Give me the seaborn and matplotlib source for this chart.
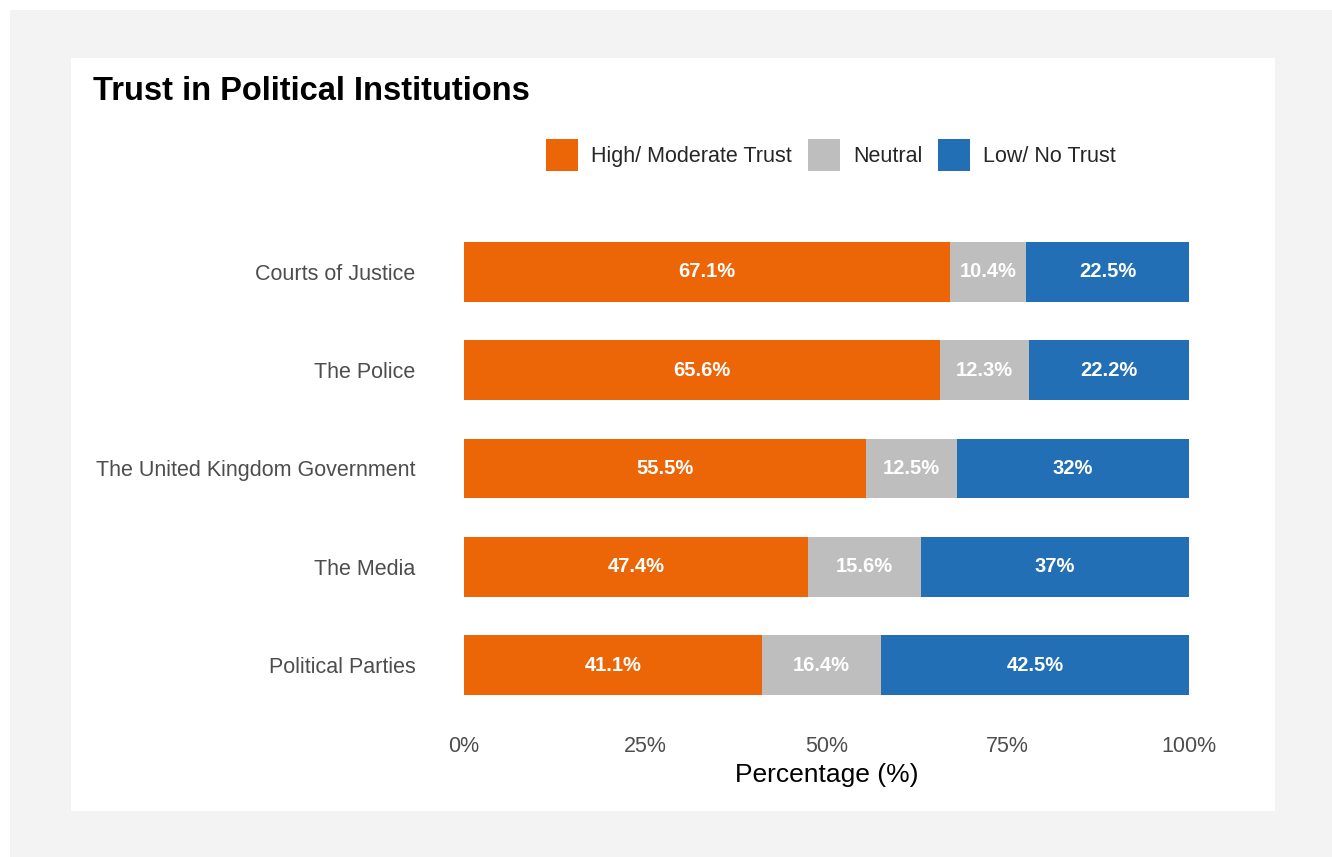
import matplotlib
matplotlib.use("Agg")
import matplotlib.pyplot as plt
from matplotlib.patches import Rectangle, Patch
import seaborn as sns
import pandas as pd
import numpy as np

institutions = ["Courts of Justice", "The Police", "The United Kingdom Government",
                "The Media", "Political Parties"]
high_trust = [67.1, 65.6, 55.5, 47.4, 41.1]
neutral = [10.4, 12.3, 12.5, 15.6, 16.4]
low_trust = [22.5, 22.2, 32.0, 37.0, 42.5]
series_names = ["High/ Moderate Trust", "Neutral", "Low/ No Trust"]
colors = ["#EC6608", "#BEBEBE", "#226FB5"]
x_ticks = [0, 25, 50, 75, 100]
x_tick_labels = ["0%", "25%", "50%", "75%", "100%"]

sns.set_theme(style="white")
plt.rcParams["font.family"] = ["Liberation Sans", "DejaVu Sans"]

W, H = 1332, 857
fig = plt.figure(figsize=(W / 100, H / 100), dpi=100, facecolor="white")

# framed backdrop: grey card with a white panel on top
fig.patches.append(Rectangle((10 / W, 0), 1 - 10 / W, 1 - 10 / H, transform=fig.transFigure,
                             facecolor="#F2F3F2", edgecolor="none", zorder=-2))
fig.patches.append(Rectangle((71 / W, 1 - 811 / H), (1275 - 71) / W, (811 - 58) / H,
                             transform=fig.transFigure, facecolor="white",
                             edgecolor="none", zorder=-1))

ax = fig.add_axes([464 / W, 1 - 724 / H, 725 / W, 511 / H])
ax.set_facecolor("none")

df = pd.DataFrame({"institution": institutions, "high": high_trust,
                   "neutral": neutral, "low": low_trust})
df["cum_neutral"] = df["high"] + df["neutral"]
df["cum_low"] = df["cum_neutral"] + df["low"]

# stacked bars: draw cumulative totals back to front
for col, color in zip(["cum_low", "cum_neutral", "high"], colors[::-1]):
    sns.barplot(data=df, x=col, y="institution", order=institutions, color=color,
                width=0.61, saturation=1, ax=ax, linewidth=0)

starts = [np.zeros(len(df)), df["high"].values, df["cum_neutral"].values]
for vals, start in zip([high_trust, neutral, low_trust], starts):
    for i, (v, s) in enumerate(zip(vals, start)):
        ax.text(s + v / 2, i, f"{v:g}%", ha="center", va="center", color="white",
                fontsize=14.5, fontweight="bold")

ax.set_xlim(0, 100)
ax.set_ylim(4.6, -0.6)
ax.set_xticks(x_ticks)
ax.set_xticklabels(x_tick_labels)
ax.tick_params(axis="x", labelsize=15.5, labelcolor="#4D4D4D", length=0, pad=9)
ax.tick_params(axis="y", labelsize=15.5, labelcolor="#4D4D4D", length=0, pad=35)
ax.set_ylabel("")
ax.set_xlabel("Percentage (%)", fontsize=19, color="black", labelpad=4)
for sp in ax.spines.values():
    sp.set_visible(False)
ax.grid(False)

fig.text(93 / W, 1 - 92 / H, "Trust in Political Institutions", fontsize=23.5,
         fontweight="bold", color="black", ha="left", va="center")

handles = [Patch(facecolor=c, edgecolor="none", label=n) for c, n in zip(colors, series_names)]
fig.legend(handles=handles, loc="center", bbox_to_anchor=(831 / W, 1 - 155 / H), ncol=3,
           frameon=False, fontsize=15.5, handlelength=1.49, handleheight=1.91,
           handletextpad=0.6, columnspacing=0.75, borderaxespad=0)

fig.savefig("out.png", dpi=100, facecolor=fig.get_facecolor())
